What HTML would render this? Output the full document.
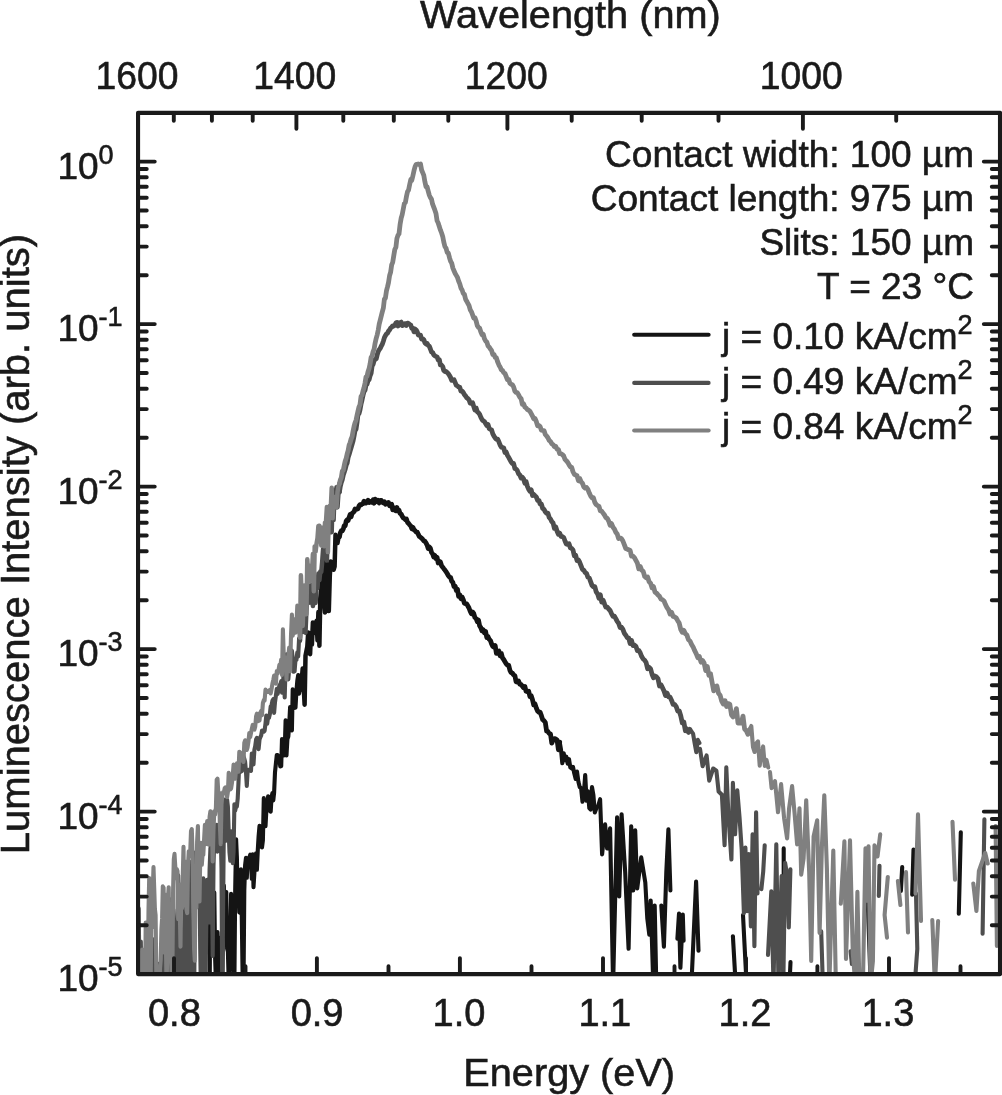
<!DOCTYPE html>
<html><head><meta charset="utf-8"><title>Luminescence spectra</title>
<style>html,body{margin:0;padding:0;background:#fff}svg{display:block}</style></head>
<body>
<svg width="1002" height="1095" viewBox="0 0 1002 1095" font-family='"Liberation Sans", sans-serif' fill="#1a1a1a">
<style>text{stroke:#1a1a1a;stroke-width:0.6px}</style>
<rect width="1002" height="1095" fill="#fff"/>
<clipPath id="c"><rect x="138.05" y="112.85" width="861.95" height="861.25"/></clipPath>
<g clip-path="url(#c)" fill="none" stroke-linejoin="round" stroke-linecap="round">
<path d="M137.4 948.9L138.1 1004.1M145.7 952.2L146.4 938.8M158.5 1004.1L159.2 963.8M173.1 1004.1L173.8 963.3L174.5 945.6L175.3 926.6L176.0 988.2M181.2 958.6L182.0 1004.1L182.7 985.9M189.5 1004.1L190.3 930.0L191.0 965.8L191.8 1004.1L192.6 1004.1M209.6 1004.1L210.4 874.7L211.1 914.9M213.5 918.1L214.3 892.6L215.1 957.0L215.9 981.5L216.7 981.5L217.5 932.0L218.3 947.7L219.1 1004.1L219.9 1004.1L220.7 999.1L221.5 937.2L222.3 979.4L223.1 913.8L223.9 885.6L224.7 913.4L225.5 935.4L226.3 892.0L227.1 948.4L227.9 951.7L228.7 981.5L229.5 981.5L230.3 944.0L231.1 893.8L232.0 915.0L232.8 904.0L233.6 965.2L234.4 981.3L235.2 889.9L236.1 839.2L236.9 857.6L237.7 899.2L238.5 885.8L239.3 912.4L240.2 912.8L241.0 869.3L241.8 919.6L242.7 981.5L243.5 987.9L244.3 890.8L245.1 865.2L246.0 857.7L246.8 877.8L247.6 860.9L248.5 861.7L249.3 857.9L250.2 854.7L251.0 861.7L251.8 878.8L252.7 854.3L253.5 887.1L254.4 872.5L255.2 855.6L256.1 853.3L256.9 869.8L257.8 849.9L258.6 836.4L259.5 825.9L260.3 846.4L261.2 828.4L262.0 847.5L262.9 840.2L263.8 798.1L264.6 813.5L265.5 826.1L266.3 811.5L267.2 811.1L268.1 796.4L268.9 797.4L269.8 806.7L270.7 811.7L271.5 797.7L272.4 793.1L273.3 800.4L274.1 792.8L275.0 772.2L275.9 763.5L276.8 755.0L277.6 755.1L278.5 758.0L279.4 760.3L280.3 766.5L281.2 766.1L282.0 739.0L282.9 747.9L283.8 755.5L284.7 750.5L285.6 720.2L286.5 755.5L287.4 739.2L288.3 736.5L289.2 724.8L290.1 707.1L291.0 728.4L291.9 730.4L292.7 689.4L293.7 708.3L294.6 700.1L295.5 707.6L296.4 691.4L297.3 680.8L298.2 675.1L299.1 693.6L300.0 690.0" stroke="#141414" stroke-width="4.1"/>
<path d="M300.0 690.0L300.9 677.6L301.8 678.9L302.7 668.5L303.6 684.3L304.6 704.7L305.5 655.7L306.4 651.3L307.3 646.8L308.2 632.4L309.1 640.5L310.1 654.2L311.0 633.0L311.9 644.6L312.9 622.4L313.8 633.2L314.7 625.5L315.6 624.8L316.6 620.9L317.5 640.4L318.4 612.0L319.4 645.7L320.3 598.2L321.3 586.8L322.2 568.7L323.1 588.8L324.1 601.9L325.0 612.5L326.0 559.3L326.9 602.9L327.9 568.9L328.8 611.1L329.8 575.9L330.7 561.5L331.7 563.2L332.6 563.9L333.6 569.7L334.6 566.6L335.5 534.7L336.5 538.1L337.5 543.0L338.4 538.2L339.4 536.8" stroke="#141414" stroke-width="4.5"/>
<path d="M339.4 536.8L340.3 532.7L341.3 530.7L342.3 530.9L343.3 529.0L344.2 525.6L345.2 525.7L346.2 521.0L347.2 519.8L348.1 520.5L349.1 517.4L350.1 514.5L351.1 516.9L352.1 513.4L353.1 512.6L354.1 511.6L355.0 509.0L356.0 509.3L357.0 509.1L358.0 508.8L359.0 506.0L360.0 504.6L361.0 504.9L362.0 504.0L363.0 503.7L364.0 501.2L365.0 501.9L366.0 503.1L367.0 502.4L368.0 500.2L369.1 502.6L370.1 501.8L371.1 501.3L372.1 502.3L373.1 499.8L374.1 503.3L375.1 499.1L376.2 500.9L377.2 501.8L378.2 500.3L379.2 502.9L380.3 500.4L381.3 500.3L382.3 502.2L383.4 502.9L384.4 501.7L385.4 504.2L386.5 503.8L387.5 503.9L388.5 502.5L389.6 505.7L390.6 505.1L391.7 504.4L392.7 509.7L393.8 507.6L394.8 510.2L395.9 510.7L396.9 507.5L398.0 510.8L399.0 510.2L400.1 513.5L401.2 514.1L402.2 516.2L403.3 517.9L404.3 518.5L405.4 519.7L406.5 519.1L407.5 522.4L408.6 523.4L409.7 524.9L410.8 526.0L411.8 528.7L412.9 527.3L414.0 529.8L415.1 530.7L416.2 532.2L417.3 532.1L418.3 534.4L419.4 536.6L420.5 537.3L421.6 538.2L422.7 539.3L423.8 540.8L424.9 541.3L426.0 542.9L427.1 545.1L428.2 548.5L429.3 546.9L430.4 548.3L431.5 552.3L432.6 553.8L433.7 557.0L434.8 555.4L436.0 558.6L437.1 557.4L438.2 563.0L439.3 561.2L440.4 562.0L441.6 565.8L442.7 567.2L443.8 568.7L444.9 570.1L446.1 571.7L447.2 573.5L448.3 575.5L449.5 577.1L450.6 577.5L451.7 581.2L452.9 582.5L454.0 586.6L455.2 586.2L456.3 590.5L457.5 589.4L458.6 596.3L459.8 594.8L460.9 598.7L462.1 597.0L463.2 599.4L464.4 603.3L465.6 603.7L466.7 603.8L467.9 606.0L469.0 608.0L470.2 611.3L471.4 613.8L472.6 612.0L473.7 613.5L474.9 617.5L476.1 618.5L477.3 621.7L478.5 620.1L479.6 625.7L480.8 627.6L482.0 630.9L483.2 629.9L484.4 632.7L485.6 631.5L486.8 637.6L488.0 636.6L489.2 639.3L490.4 640.4L491.6 643.9L492.8 646.4L494.0 647.1L495.2 645.6L496.4 653.3L497.6 651.8L498.9 651.1L500.1 655.7L501.3 653.4L502.5 657.8L503.7 659.5L505.0 661.8L506.2 663.8L507.4 665.0L508.7 665.3L509.9 670.3L511.1 672.5L512.4 673.1L513.6 674.9L514.9 675.8L516.1 681.9L517.3 682.0L518.6 681.1L519.8 684.2L521.1 684.6L522.3 686.0L523.6 687.8L524.9 686.5L526.1 691.3L527.4 691.7L528.7 691.3L529.9 696.5L531.2 695.7L532.5 699.8L533.7 704.9L535.0 703.9L536.3 708.0L537.6 711.1L538.9 712.4L540.1 712.2L541.4 715.7L542.7 719.7L544.0 720.7L545.3 722.4L546.6 731.1L547.9 731.6L549.2 733.5L550.5 734.0L551.8 743.1L553.1 740.0L554.4 738.6L555.7 739.1L557.1 740.0L558.4 749.8L559.7 742.1" stroke="#141414" stroke-width="4.8"/>
<path d="M559.7 742.1L561.0 749.6L562.3 763.2L563.7 753.2L565.0 760.3L566.3 756.7L567.7 763.7L569.0 759.1L570.3 767.4L571.7 768.5L573.0 766.8L574.3 773.5L575.7 779.0L577.0 771.6L578.4 781.7L579.7 787.1L581.1 788.2L582.5 801.7L583.8 794.5L585.2 775.0L586.6 800.8L587.9 791.4L589.3 808.0L590.7 809.5L592.0 787.0L593.4 795.2L594.8 812.4L596.2 808.7M598.1 806.2L600.1 799.2L602.1 854.4L605.1 824.3L607.1 848.4L610.1 828.3L613.1 985.0L617.1 817.2L619.2 896.5L621.6 814.2L625.2 872.4L627.2 918.6L628.6 948.8L631.2 826.3L633.2 890.5L635.2 830.3L637.2 888.5L641.2 857.4L645.3 882.5L647.3 918.6L649.3 934.7L650.7 900.6L653.3 985.0L654.7 905.6L656.3 985.0M661.3 905.6L663.9 946.7L666.3 872.4L668.4 829.3L670.4 890.5M677.4 938.7L679.0 913.6L680.4 967.8L682.8 914.6L683.6 940.7M691.4 985.0L696.1 881.5L698.5 950.8M732.9 936.2L735.7 985.0M743.0 915.0L746.6 985.0M783.7 848.4L783.7 875.0M789.5 985.0L790.5 962.0M867.7 899.8L870.7 985.0M902.2 867.1L900.9 891.0M913.5 849.5L912.2 894.8M960.8 832.4L958.8 913.7" stroke="#141414" stroke-width="4.1"/>
<path d="M137.4 1004.1L138.1 968.9L138.7 908.4L139.4 971.9L140.1 981.2L140.8 941.6L141.5 981.5L142.2 981.5L142.9 1004.1L143.6 981.5L144.3 981.5L145.0 981.5L145.7 1004.1L146.4 1004.1L147.1 981.5L147.8 981.5L148.5 922.3L149.2 918.6L150.0 981.5L150.7 981.5L151.4 981.5L152.1 981.5L152.8 981.5L153.5 981.5L154.2 940.1L154.9 938.9L155.6 1004.1L156.4 981.5L157.1 1004.1L157.8 1004.1L158.5 978.3L159.2 1004.1L160.0 1004.1L160.7 1004.1L161.4 1004.1L162.1 991.1L162.8 950.1L163.6 922.1L164.3 934.9L165.0 919.6L165.7 1004.1L166.5 981.5L167.2 1004.1L167.9 965.9L168.7 937.2L169.4 900.7L170.1 899.4L170.9 940.2L171.6 1004.1L172.3 976.5L173.1 909.3L173.8 972.2L174.5 981.5L175.3 981.5L176.0 1004.1L176.8 931.8L177.5 913.1L178.2 875.4L179.0 898.4L179.7 965.5L180.5 979.2L181.2 931.5L182.0 1004.1L182.7 1004.1L183.5 954.7L184.2 922.8L185.0 900.6L185.7 1004.1L186.5 981.5L187.2 981.5L188.0 981.5L188.8 879.9L189.5 861.8L190.3 971.0L191.0 981.5L191.8 981.5L192.6 927.2L193.3 948.1L194.1 1004.1L194.8 913.4L195.6 852.4L196.4 865.8L197.1 875.7L197.9 864.1L198.7 855.1L199.5 871.3L200.2 948.6L201.0 994.4L201.8 1004.1L202.5 942.6L203.3 878.4L204.1 898.1L204.9 937.1L205.7 972.5L206.4 915.7L207.2 879.9L208.0 896.6L208.8 922.5L209.6 869.1L210.4 848.5L211.1 845.1L211.9 881.7L212.7 956.0L213.5 866.3L214.3 836.9L215.1 841.6L215.9 844.5L216.7 824.9L217.5 851.6L218.3 843.4L219.1 837.8L219.9 848.7L220.7 832.6L221.5 868.4L222.3 1004.1L223.1 909.4L223.9 817.9L224.7 799.6L225.5 841.0L226.3 834.9L227.1 799.8L227.9 806.8L228.7 832.0L229.5 852.6L230.3 860.7L231.1 831.4L232.0 837.6L232.8 863.2L233.6 851.7L234.4 804.4L235.2 810.5L236.1 805.8L236.9 806.4L237.7 798.6L238.5 782.1L239.3 762.3L240.2 765.3L241.0 771.6L241.8 771.1L242.7 756.0L243.5 756.4L244.3 758.7L245.1 761.8L246.0 772.3L246.8 785.9L247.6 771.7L248.5 769.7L249.3 769.7L250.2 769.2L251.0 770.8L251.8 753.5L252.7 756.8L253.5 764.5L254.4 749.7L255.2 746.3L256.1 739.4L256.9 737.8L257.8 741.3L258.6 749.1L259.5 739.7L260.3 737.4L261.2 735.4L262.0 730.7L262.9 730.3L263.8 731.7L264.6 730.8L265.5 723.4L266.3 715.5L267.2 723.6L268.1 717.3L268.9 718.0L269.8 714.4L270.7 706.5L271.5 705.4L272.4 700.8L273.3 699.1L274.1 712.9L275.0 702.1L275.9 695.6L276.8 688.7L277.6 694.0L278.5 690.5L279.4 685.1L280.3 684.4L281.2 681.2L282.0 692.6L282.9 686.9L283.8 668.7L284.7 697.4L285.6 666.3L286.5 654.4L287.4 658.3L288.3 679.4L289.2 669.1L290.1 664.6L291.0 650.2L291.9 650.8L292.7 658.4L293.7 671.8L294.6 671.3L295.5 659.4L296.4 659.9L297.3 652.4L298.2 656.4L299.1 638.2L300.0 640.7" stroke="#4e4e4e" stroke-width="4.1"/>
<path d="M300.0 640.7L300.9 626.0L301.8 626.9L302.7 616.3L303.6 631.9L304.6 632.2L305.5 632.6L306.4 611.2L307.3 598.0L308.2 589.6L309.1 600.6L310.1 602.6L311.0 585.2L311.9 595.0L312.9 606.1L313.8 577.5L314.7 591.5L315.6 603.0L316.6 580.7L317.5 588.0L318.4 573.5L319.4 580.3L320.3 571.5L321.3 571.7L322.2 561.8L323.1 549.0L324.1 550.4L325.0 549.7L326.0 530.9L326.9 560.6L327.9 534.7L328.8 516.4L329.8 519.7L330.7 507.7L331.7 532.3L332.6 498.3L333.6 520.1L334.6 490.3L335.5 499.2L336.5 487.2L337.5 507.2L338.4 493.6L339.4 492.1" stroke="#4e4e4e" stroke-width="4.5"/>
<path d="M339.4 492.1L340.3 486.4L341.3 482.4L342.3 479.6L343.3 475.0L344.2 472.2L345.2 469.3L346.2 465.1L347.2 462.9L348.1 457.6L349.1 454.5L350.1 451.0L351.1 447.7L352.1 444.3L353.1 440.9L354.1 435.9L355.0 430.7L356.0 429.4L357.0 422.7L358.0 414.2L359.0 413.7L360.0 409.8L361.0 404.3L362.0 400.1L363.0 395.4L364.0 391.7L365.0 390.2L366.0 385.1L367.0 384.2L368.0 380.9L369.1 379.7L370.1 375.7L371.1 373.4L372.1 365.9L373.1 364.4L374.1 360.7L375.1 359.5L376.2 358.8L377.2 354.8L378.2 351.6L379.2 349.7L380.3 348.3L381.3 346.0L382.3 344.3L383.4 341.0L384.4 337.6L385.4 335.6L386.5 333.9L387.5 333.2L388.5 331.1L389.6 329.9L390.6 328.0L391.7 327.1L392.7 325.9L393.8 326.0L394.8 325.3L395.9 322.9L396.9 322.4L398.0 326.0L399.0 322.8L400.1 322.6L401.2 322.1L402.2 325.6L403.3 325.3L404.3 324.0L405.4 323.6L406.5 325.4L407.5 323.1L408.6 323.5L409.7 324.5L410.8 325.1L411.8 328.4L412.9 328.2L414.0 331.9L415.1 329.1L416.2 330.0L417.3 332.0L418.3 335.0L419.4 335.0L420.5 335.2L421.6 339.1L422.7 338.8L423.8 339.6L424.9 342.8L426.0 344.0L427.1 343.4L428.2 345.4L429.3 346.2L430.4 349.0L431.5 352.0L432.6 352.4L433.7 354.7L434.8 355.8L436.0 356.5L437.1 356.9L438.2 360.0L439.3 359.6L440.4 364.9L441.6 365.2L442.7 366.5L443.8 370.5L444.9 371.5L446.1 371.5L447.2 372.5L448.3 373.6L449.5 375.5L450.6 377.5L451.7 380.3L452.9 380.1L454.0 379.8L455.2 382.6L456.3 385.4L457.5 385.9L458.6 387.0L459.8 387.4L460.9 391.0L462.1 391.1L463.2 392.4L464.4 394.7L465.6 396.0L466.7 397.8L467.9 398.6L469.0 399.8L470.2 403.1L471.4 403.4L472.6 402.8L473.7 406.4L474.9 410.1L476.1 407.9L477.3 411.7L478.5 412.8L479.6 414.2L480.8 417.1L482.0 419.5L483.2 420.8L484.4 421.5L485.6 423.5L486.8 425.5L488.0 424.5L489.2 428.5L490.4 429.4L491.6 429.9L492.8 433.9L494.0 436.2L495.2 438.0L496.4 439.2L497.6 439.1L498.9 441.8L500.1 445.0L501.3 447.1L502.5 447.5L503.7 448.0L505.0 452.6L506.2 452.0L507.4 455.2L508.7 457.4L509.9 459.7L511.1 461.9L512.4 463.7L513.6 463.5L514.9 468.6L516.1 469.1L517.3 470.6L518.6 473.8L519.8 475.0L521.1 478.0L522.3 477.3L523.6 479.0L524.9 483.4L526.1 481.6L527.4 486.4L528.7 489.4L529.9 491.2L531.2 489.9L532.5 495.5L533.7 494.4L535.0 495.7L536.3 496.9L537.6 500.4L538.9 500.4L540.1 503.9L541.4 504.2L542.7 508.5L544.0 509.3L545.3 511.9L546.6 513.2L547.9 513.1L549.2 517.5L550.5 519.0L551.8 521.6L553.1 523.0L554.4 528.4L555.7 526.8L557.1 531.2L558.4 534.3L559.7 533.3L561.0 536.4L562.3 536.7L563.7 537.5L565.0 541.0L566.3 543.9L567.7 544.4L569.0 543.8L570.3 547.8L571.7 548.4L573.0 550.0L574.3 555.8L575.7 555.3L577.0 560.5L578.4 560.0L579.7 562.3L581.1 565.8L582.5 569.5L583.8 570.1L585.2 572.6L586.6 573.5L587.9 577.2L589.3 578.0L590.7 581.8L592.0 585.4L593.4 586.9L594.8 586.6L596.2 591.8L597.6 593.8L599.0 598.4L600.3 594.8L601.7 602.0L603.1 600.2L604.5 603.9L605.9 607.2L607.3 607.1L608.7 609.0L610.1 610.5L611.5 613.6L613.0 616.4L614.4 616.2L615.8 618.6L617.2 621.4L618.6 623.2L620.1 627.5L621.5 627.2L622.9 629.4L624.3 633.2L625.8 635.2L627.2 637.7L628.7 638.1L630.1 643.5L631.5 640.5L633.0 645.6L634.4 645.0L635.9 646.3L637.4 650.6L638.8 650.3L640.3 653.0L641.7 656.6L643.2 659.0L644.7 660.3L646.1 662.5L647.6 668.7L649.1 667.3L650.6 668.9L652.1 674.5L653.5 677.7L655.0 676.0L656.5 676.9L658.0 678.8L659.5 686.0L661.0 684.7L662.5 687.8L664.0 691.1L665.5 695.6L667.0 693.0L668.6 696.9L670.1 697.2L671.6 700.4L673.1 704.4L674.6 704.4L676.2 706.6L677.7 711.0L679.2 710.8L680.8 716.0L682.3 722.9L683.8 722.0L685.4 730.7L686.9 728.8L688.5 732.3" stroke="#4e4e4e" stroke-width="4.8"/>
<path d="M688.5 732.3L690.0 729.0L691.6 731.8L693.1 733.8L694.7 743.5L696.3 752.2L697.8 739.9L699.4 743.0M700.0 748.8L702.6 766.3L706.6 755.4L709.2 780.6L713.2 768.5L716.4 770.7L718.6 791.5L721.9 794.8L724.6 845.3L726.3 767.4L728.5 816.8L731.4 859.5L732.9 782.8L735.1 834.3L737.3 790.4L739.5 816.8L741.7 849.6L743.9 913.2L745.4 847.5L747.1 911.1L748.7 854.0L750.9 926.4L752.6 834.3L754.4 946.1L756.1 812.4L757.5 893.5M764.7 845.3L763.2 871.6L761.4 889.1M768.0 954.9L771.3 891.3L773.5 985.0L776.3 844.2L778.5 985.0L781.6 876.0L783.3 985.0L785.1 862.8L787.3 876.0L788.8 927.5L790.4 869.4M821.2 931.3L822.9 985.0M850.6 951.4L851.9 964.0M879.5 865.9L878.8 896.0M916.0 893.5L917.3 948.9L914.7 985.0M984.4 819.3L982.6 933.8" stroke="#4e4e4e" stroke-width="4.1"/>
<path d="M137.4 901.5L138.1 953.1L138.7 981.5L139.4 981.5L140.1 981.5L140.8 1004.1L141.5 1004.1L142.2 949.5L142.9 964.2L143.6 981.5L144.3 981.5L145.0 1004.1L145.7 922.5L146.4 937.4L147.1 981.5L147.8 981.5L148.5 910.0L149.2 878.0L150.0 937.7L150.7 978.8L151.4 915.8L152.1 927.4L152.8 889.6L153.5 867.0L154.2 887.9L154.9 909.1L155.6 915.1L156.4 982.4L157.1 997.7L157.8 1004.1L158.5 1001.4L159.2 989.0L160.0 968.3L160.7 960.1L161.4 929.3L162.1 918.4L162.8 886.4L163.6 887.8L164.3 952.6L165.0 894.5L165.7 929.0L166.5 981.5L167.2 961.2L167.9 899.6L168.7 887.2L169.4 949.1L170.1 921.1L170.9 942.0L171.6 981.5L172.3 981.5L173.1 889.8L173.8 859.3L174.5 853.9L175.3 866.9L176.0 878.2L176.8 869.1L177.5 871.2L178.2 919.2L179.0 916.4L179.7 904.6L180.5 946.6L181.2 884.3L182.0 908.3L182.7 879.3L183.5 846.7L184.2 905.4L185.0 899.1L185.7 861.7L186.5 909.4L187.2 913.1L188.0 865.0L188.8 851.2L189.5 856.2L190.3 850.2L191.0 831.0L191.8 829.2L192.6 855.0L193.3 901.1L194.1 949.6L194.8 960.7L195.6 885.5L196.4 907.7L197.1 842.1L197.9 826.0L198.7 878.5L199.5 901.5L200.2 860.8L201.0 842.9L201.8 864.8L202.5 855.4L203.3 855.0L204.1 839.5L204.9 824.8L205.7 844.3L206.4 836.8L207.2 821.0L208.0 824.1L208.8 844.7L209.6 816.7L210.4 811.2L211.1 812.5L211.9 823.1L212.7 861.5L213.5 829.5L214.3 811.3L215.1 814.4L215.9 807.8L216.7 779.7L217.5 778.6L218.3 792.6L219.1 792.5L219.9 825.4L220.7 844.2L221.5 804.4L222.3 795.3L223.1 792.0L223.9 792.6L224.7 788.1L225.5 787.3L226.3 793.0L227.1 797.1L227.9 791.9L228.7 772.9L229.5 774.8L230.3 789.4L231.1 788.4L232.0 782.7L232.8 775.0L233.6 764.5L234.4 773.9L235.2 778.7L236.1 769.9L236.9 763.4L237.7 766.4L238.5 771.8L239.3 751.8L240.2 752.4L241.0 756.6L241.8 757.1L242.7 760.9L243.5 761.9L244.3 742.9L245.1 740.3L246.0 746.8L246.8 750.0L247.6 747.3L248.5 741.2L249.3 733.0L250.2 737.1L251.0 733.1L251.8 728.9L252.7 724.9L253.5 729.4L254.4 729.6L255.2 726.8L256.1 716.4L256.9 713.7L257.8 721.2L258.6 720.8L259.5 720.5L260.3 712.7L261.2 710.9L262.0 715.2L262.9 703.0L263.8 700.2L264.6 700.4L265.5 689.6L266.3 692.2L267.2 691.9L268.1 691.9L268.9 690.5L269.8 690.0L270.7 693.4L271.5 689.4L272.4 683.8L273.3 679.9L274.1 675.6L275.0 677.2L275.9 683.6L276.8 671.1L277.6 673.6L278.5 670.1L279.4 664.9L280.3 666.5L281.2 659.5L282.0 675.0L282.9 629.4L283.8 656.7L284.7 657.3L285.6 659.0L286.5 679.5L287.4 658.0L288.3 656.0L289.2 647.5L290.1 671.4L291.0 635.2L291.9 614.5L292.7 635.7L293.7 628.7L294.6 619.2L295.5 632.7L296.4 625.9L297.3 605.5L298.2 613.6L299.1 630.4L300.0 637.5" stroke="#808080" stroke-width="4.1"/>
<path d="M300.0 637.5L300.9 575.3L301.8 599.2L302.7 625.9L303.6 597.0L304.6 585.4L305.5 589.5L306.4 614.3L307.3 559.3L308.2 574.5L309.1 581.8L310.1 566.1L311.0 575.5L311.9 574.2L312.9 554.0L313.8 591.3L314.7 546.4L315.6 551.7L316.6 543.3L317.5 538.2L318.4 525.9L319.4 525.7L320.3 530.3L321.3 545.6L322.2 527.7L323.1 541.5L324.1 546.2L325.0 522.7L326.0 521.4L326.9 507.0L327.9 552.1L328.8 509.6L329.8 505.7L330.7 510.3L331.7 487.8L332.6 518.3L333.6 497.8L334.6 505.0L335.5 496.8L336.5 507.4L337.5 492.2L338.4 486.5L339.4 483.6" stroke="#808080" stroke-width="4.5"/>
<path d="M339.4 483.6L340.3 480.0L341.3 477.6L342.3 471.1L343.3 470.2L344.2 465.6L345.2 461.1L346.2 458.3L347.2 453.7L348.1 450.6L349.1 445.1L350.1 442.7L351.1 439.0L352.1 436.6L353.1 431.0L354.1 426.2L355.0 422.8L356.0 420.3L357.0 415.6L358.0 411.1L359.0 406.9L360.0 404.6L361.0 396.7L362.0 395.2L363.0 391.0L364.0 387.7L365.0 383.2L366.0 376.8L367.0 376.3L368.0 371.8L369.1 368.4L370.1 363.8L371.1 357.3L372.1 355.9L373.1 351.6L374.1 349.1L375.1 343.2L376.2 338.3L377.2 334.8L378.2 330.2L379.2 324.2L380.3 319.8L381.3 315.9L382.3 311.9L383.4 307.8L384.4 299.1L385.4 298.2L386.5 290.7L387.5 286.9L388.5 282.6L389.6 275.5L390.6 272.3L391.7 264.7L392.7 262.4L393.8 255.5L394.8 249.5L395.9 247.2L396.9 238.5L398.0 235.2L399.0 233.9L400.1 224.4L401.2 218.0L402.2 214.6L403.3 208.9L404.3 203.6L405.4 202.4L406.5 196.3L407.5 191.7L408.6 189.9L409.7 184.4L410.8 179.4L411.8 180.3L412.9 175.7L414.0 170.7L415.1 166.5L416.2 164.3L417.3 164.2L418.3 164.0L419.4 164.6L420.5 164.0L421.6 170.0L422.7 172.7L423.8 175.4L424.9 181.8L426.0 186.6L427.1 186.9L428.2 191.1L429.3 195.1L430.4 197.6L431.5 199.2L432.6 204.2L433.7 207.0L434.8 209.9L436.0 213.6L437.1 220.8L438.2 223.0L439.3 226.6L440.4 229.9L441.6 233.0L442.7 236.4L443.8 242.1L444.9 246.5L446.1 248.3L447.2 252.5L448.3 253.0L449.5 257.7L450.6 261.2L451.7 263.1L452.9 268.1L454.0 270.7L455.2 273.5L456.3 275.4L457.5 277.5L458.6 281.0L459.8 283.9L460.9 287.9L462.1 289.9L463.2 293.4L464.4 294.4L465.6 299.3L466.7 301.2L467.9 303.5L469.0 305.4L470.2 309.7L471.4 311.7L472.6 314.9L473.7 318.0L474.9 317.6L476.1 320.8L477.3 325.6L478.5 327.4L479.6 328.0L480.8 331.8L482.0 334.7L483.2 334.2L484.4 338.7L485.6 340.9L486.8 342.0L488.0 345.8L489.2 347.1L490.4 349.1L491.6 350.6L492.8 354.5L494.0 354.4L495.2 357.5L496.4 357.9L497.6 361.8L498.9 364.9L500.1 366.9L501.3 369.7L502.5 370.5L503.7 372.6L505.0 373.5L506.2 376.5L507.4 379.6L508.7 379.4L509.9 383.2L511.1 384.3L512.4 384.8L513.6 386.9L514.9 391.3L516.1 392.4L517.3 392.6L518.6 394.9L519.8 397.3L521.1 398.6L522.3 404.2L523.6 403.8L524.9 407.1L526.1 407.9L527.4 409.6L528.7 410.2L529.9 411.3L531.2 413.6L532.5 416.1L533.7 418.7L535.0 418.4L536.3 421.5L537.6 425.7L538.9 425.4L540.1 426.5L541.4 430.2L542.7 430.5L544.0 430.6L545.3 434.5L546.6 436.0L547.9 437.7L549.2 440.4L550.5 441.5L551.8 443.7L553.1 444.6L554.4 446.7L555.7 446.4L557.1 449.3L558.4 449.6L559.7 453.7L561.0 453.7L562.3 454.5L563.7 456.0L565.0 459.4L566.3 460.7L567.7 462.3L569.0 464.7L570.3 466.8L571.7 467.5L573.0 471.7L574.3 474.3L575.7 475.0L577.0 475.7L578.4 480.7L579.7 478.4L581.1 481.7L582.5 483.4L583.8 486.9L585.2 488.1L586.6 487.5L587.9 489.4L589.3 493.1L590.7 496.1L592.0 497.8L593.4 497.6L594.8 502.4L596.2 504.6L597.6 505.6L599.0 506.3L600.3 510.8L601.7 511.3L603.1 513.1L604.5 515.0L605.9 517.6L607.3 518.4L608.7 521.1L610.1 525.3L611.5 523.6L613.0 527.2L614.4 529.0L615.8 532.2L617.2 534.0L618.6 538.5L620.1 537.9L621.5 538.6L622.9 541.0L624.3 544.7L625.8 548.5L627.2 549.1L628.7 549.9L630.1 550.3L631.5 556.1L633.0 556.1L634.4 557.6L635.9 560.4L637.4 563.2L638.8 568.9L640.3 566.5L641.7 570.1L643.2 571.3L644.7 576.5L646.1 577.7L647.6 577.0L649.1 581.8L650.6 583.2L652.1 587.9L653.5 586.6L655.0 592.2L656.5 593.1L658.0 594.9L659.5 596.3L661.0 599.1L662.5 599.7L664.0 601.0L665.5 604.7L667.0 607.6L668.6 609.9L670.1 614.1L671.6 612.3L673.1 616.4L674.6 616.8L676.2 618.0L677.7 620.7L679.2 623.1L680.8 629.6L682.3 632.3L683.8 630.3L685.4 633.7L686.9 635.1L688.5 639.7L690.0 641.0L691.6 644.5L693.1 646.9L694.7 650.7L696.3 653.8L697.8 657.7L699.4 656.6L701.0 662.2L702.6 660.5L704.1 663.0L705.7 670.6L707.3 666.4L708.9 675.2L710.5 673.7L712.1 682.4L713.7 690.9L715.3 686.8L716.9 686.0L718.5 693.2L720.1 695.2L721.7 701.2L723.3 704.1L725.0 700.7L726.6 706.5L728.2 703.6L729.8 704.2L731.5 715.0L733.1 716.9L734.7 715.7L736.4 708.6L738.0 723.0L739.7 723.2L741.3 722.9L743.0 716.1L744.6 729.0L746.3 730.7L747.9 734.3L749.6 729.7" stroke="#808080" stroke-width="4.8"/>
<path d="M749.6 729.7L751.3 726.0L753.0 747.2L754.6 752.0L756.3 743.3L758.0 741.3L759.7 765.7L761.4 753.2L763.1 746.4L764.8 765.9L766.5 759.9L768.2 767.4M770.0 772.1L771.6 788.1L775.0 781.1L778.0 812.3L781.1 784.1L784.1 818.3L787.1 838.4L789.1 808.2L792.1 786.1L794.5 812.3L797.1 844.4L799.5 808.2L801.2 874.6L803.6 858.5L806.2 800.2L809.2 872.6L811.2 961.0L813.6 836.4L817.2 820.3L819.6 932.9L821.9 846.4L824.3 795.2L826.9 868.5L829.3 985.0L833.3 850.5L835.9 985.0M840.8 903.7L844.4 841.4L846.0 959.0L850.0 840.4L852.8 953.0L855.4 985.0L857.4 891.7L859.4 985.0M862.9 985.0L865.5 848.4L867.1 900.7L868.5 846.4L870.5 985.0L872.9 961.0L874.5 845.4L877.5 856.5L880.2 834.4M887.8 877.0L884.6 915.0L887.0 937.6M897.9 881.0L900.4 905.0M906.0 872.0L908.0 932.5M915.5 893.5L918.0 814.3L921.0 921.0M932.3 920.0L934.9 985.0L938.1 921.0M952.5 821.9L955.0 879.7M973.3 883.5L976.4 911.0L978.9 871.0L985.2 853.0L987.7 863.4M995.6 826.0L996.9 946.0" stroke="#808080" stroke-width="4.1"/>
</g>
<rect x="138.05" y="112.85" width="861.95" height="861.25" fill="none" stroke="#1a1a1a" stroke-width="4.1" stroke-linejoin="round"/>
<path d="M174.0 974.1v-16.0M245.5 974.1v-7.9M316.9 974.1v-16.0M388.5 974.1v-7.9M459.9 974.1v-16.0M531.5 974.1v-7.9M603.0 974.1v-16.0M674.5 974.1v-7.9M746.0 974.1v-16.0M817.4 974.1v-7.9M889.0 974.1v-16.0M960.5 974.1v-7.9M896.2 112.85v7.9M802.9 112.85v16.0M718.5 112.85v7.9M641.7 112.85v7.9M571.7 112.85v7.9M507.4 112.85v16.0M448.3 112.85v7.9M393.8 112.85v7.9M343.3 112.85v7.9M296.4 112.85v16.0M252.7 112.85v7.9M211.9 112.85v7.9M173.8 112.85v7.9M138.05 925.2h8.7M1000.0 925.2h-8.2M138.05 896.6h8.7M1000.0 896.6h-8.2M138.05 876.3h8.7M1000.0 876.3h-8.2M138.05 860.5h8.7M1000.0 860.5h-8.2M138.05 847.7h8.7M1000.0 847.7h-8.2M138.05 836.8h8.7M1000.0 836.8h-8.2M138.05 827.3h8.7M1000.0 827.3h-8.2M138.05 819.0h8.7M1000.0 819.0h-8.2M138.05 811.6h16.7M1000.0 811.6h-16.2M138.05 762.7h8.7M1000.0 762.7h-8.2M138.05 734.1h8.7M1000.0 734.1h-8.2M138.05 713.8h8.7M1000.0 713.8h-8.2M138.05 698.0h8.7M1000.0 698.0h-8.2M138.05 685.2h8.7M1000.0 685.2h-8.2M138.05 674.3h8.7M1000.0 674.3h-8.2M138.05 664.8h8.7M1000.0 664.8h-8.2M138.05 656.5h8.7M1000.0 656.5h-8.2M138.05 649.1h16.7M1000.0 649.1h-16.2M138.05 600.2h8.7M1000.0 600.2h-8.2M138.05 571.6h8.7M1000.0 571.6h-8.2M138.05 551.3h8.7M1000.0 551.3h-8.2M138.05 535.5h8.7M1000.0 535.5h-8.2M138.05 522.7h8.7M1000.0 522.7h-8.2M138.05 511.8h8.7M1000.0 511.8h-8.2M138.05 502.3h8.7M1000.0 502.3h-8.2M138.05 494.0h8.7M1000.0 494.0h-8.2M138.05 486.6h16.7M1000.0 486.6h-16.2M138.05 437.7h8.7M1000.0 437.7h-8.2M138.05 409.1h8.7M1000.0 409.1h-8.2M138.05 388.8h8.7M1000.0 388.8h-8.2M138.05 373.0h8.7M1000.0 373.0h-8.2M138.05 360.2h8.7M1000.0 360.2h-8.2M138.05 349.3h8.7M1000.0 349.3h-8.2M138.05 339.8h8.7M1000.0 339.8h-8.2M138.05 331.5h8.7M1000.0 331.5h-8.2M138.05 324.1h16.7M1000.0 324.1h-16.2M138.05 275.2h8.7M1000.0 275.2h-8.2M138.05 246.6h8.7M1000.0 246.6h-8.2M138.05 226.3h8.7M1000.0 226.3h-8.2M138.05 210.5h8.7M1000.0 210.5h-8.2M138.05 197.7h8.7M1000.0 197.7h-8.2M138.05 186.8h8.7M1000.0 186.8h-8.2M138.05 177.3h8.7M1000.0 177.3h-8.2M138.05 169.0h8.7M1000.0 169.0h-8.2M138.05 161.6h16.7M1000.0 161.6h-16.2" fill="none" stroke="#1a1a1a" stroke-width="3.9" stroke-linecap="round"/>
<text x="174.4" y="1025.5" font-size="38" text-anchor="middle">0.8</text>
<text x="317.1" y="1025.5" font-size="38" text-anchor="middle">0.9</text>
<text x="459.0" y="1025.5" font-size="38" text-anchor="middle">1.0</text>
<text x="604.8" y="1025.5" font-size="38" text-anchor="middle">1.1</text>
<text x="745.0" y="1025.5" font-size="38" text-anchor="middle">1.2</text>
<text x="887.9" y="1025.5" font-size="38" text-anchor="middle">1.3</text>
<text transform="translate(137.1 88.8) scale(1 1.03)" font-size="37.3" text-anchor="middle">1600</text>
<text transform="translate(294.8 88.8) scale(1 1.03)" font-size="37.3" text-anchor="middle">1400</text>
<text transform="translate(506.2 88.8) scale(1 1.03)" font-size="37.3" text-anchor="middle">1200</text>
<text transform="translate(801.3 88.8) scale(1 1.03)" font-size="37.3" text-anchor="middle">1000</text>
<text x="57.4" y="991.0" font-size="37">10<tspan font-size="27" dy="-14.8">-5</tspan></text>
<text x="57.4" y="828.5" font-size="37">10<tspan font-size="27" dy="-14.8">-4</tspan></text>
<text x="57.4" y="666.0" font-size="37">10<tspan font-size="27" dy="-14.8">-3</tspan></text>
<text x="57.4" y="503.5" font-size="37">10<tspan font-size="27" dy="-14.8">-2</tspan></text>
<text x="57.4" y="341.0" font-size="37">10<tspan font-size="27" dy="-14.8">-1</tspan></text>
<text x="57.4" y="178.5" font-size="37">10<tspan font-size="27" dy="-14.8">0</tspan></text>
<text x="569.2" y="1086" font-size="39.7" text-anchor="middle">Energy (eV)</text>
<text x="570.4" y="27.8" font-size="39.7" text-anchor="middle">Wavelength (nm)</text>
<text transform="translate(29.3 544) rotate(-90)" font-size="40" text-anchor="middle">Luminescence Intensity (arb. units)</text>
<text x="974" y="166.5" font-size="37" text-anchor="end">Contact width: 100 µm</text>
<text x="974" y="210.8" font-size="37" text-anchor="end">Contact length: 975 µm</text>
<text x="974" y="255.1" font-size="37" text-anchor="end">Slits: 150 µm</text>
<text x="974" y="299.4" font-size="37" text-anchor="end">T = 23 °C</text>
<path d="M634.2 334.7H708.6" stroke="#141414" stroke-width="4.1" stroke-linecap="round" fill="none"/>
<text x="972.5" y="348.9" font-size="37" text-anchor="end">j = 0.10 kA/cm<tspan font-size="27" dy="-14.8">2</tspan></text>
<path d="M634.2 382.9H708.6" stroke="#4e4e4e" stroke-width="4.1" stroke-linecap="round" fill="none"/>
<text x="972.5" y="394.1" font-size="37" text-anchor="end">j = 0.49 kA/cm<tspan font-size="27" dy="-14.8">2</tspan></text>
<path d="M634.2 430.5H708.6" stroke="#808080" stroke-width="4.1" stroke-linecap="round" fill="none"/>
<text x="972.5" y="439.2" font-size="37" text-anchor="end">j = 0.84 kA/cm<tspan font-size="27" dy="-14.8">2</tspan></text>
</svg>
</body></html>
